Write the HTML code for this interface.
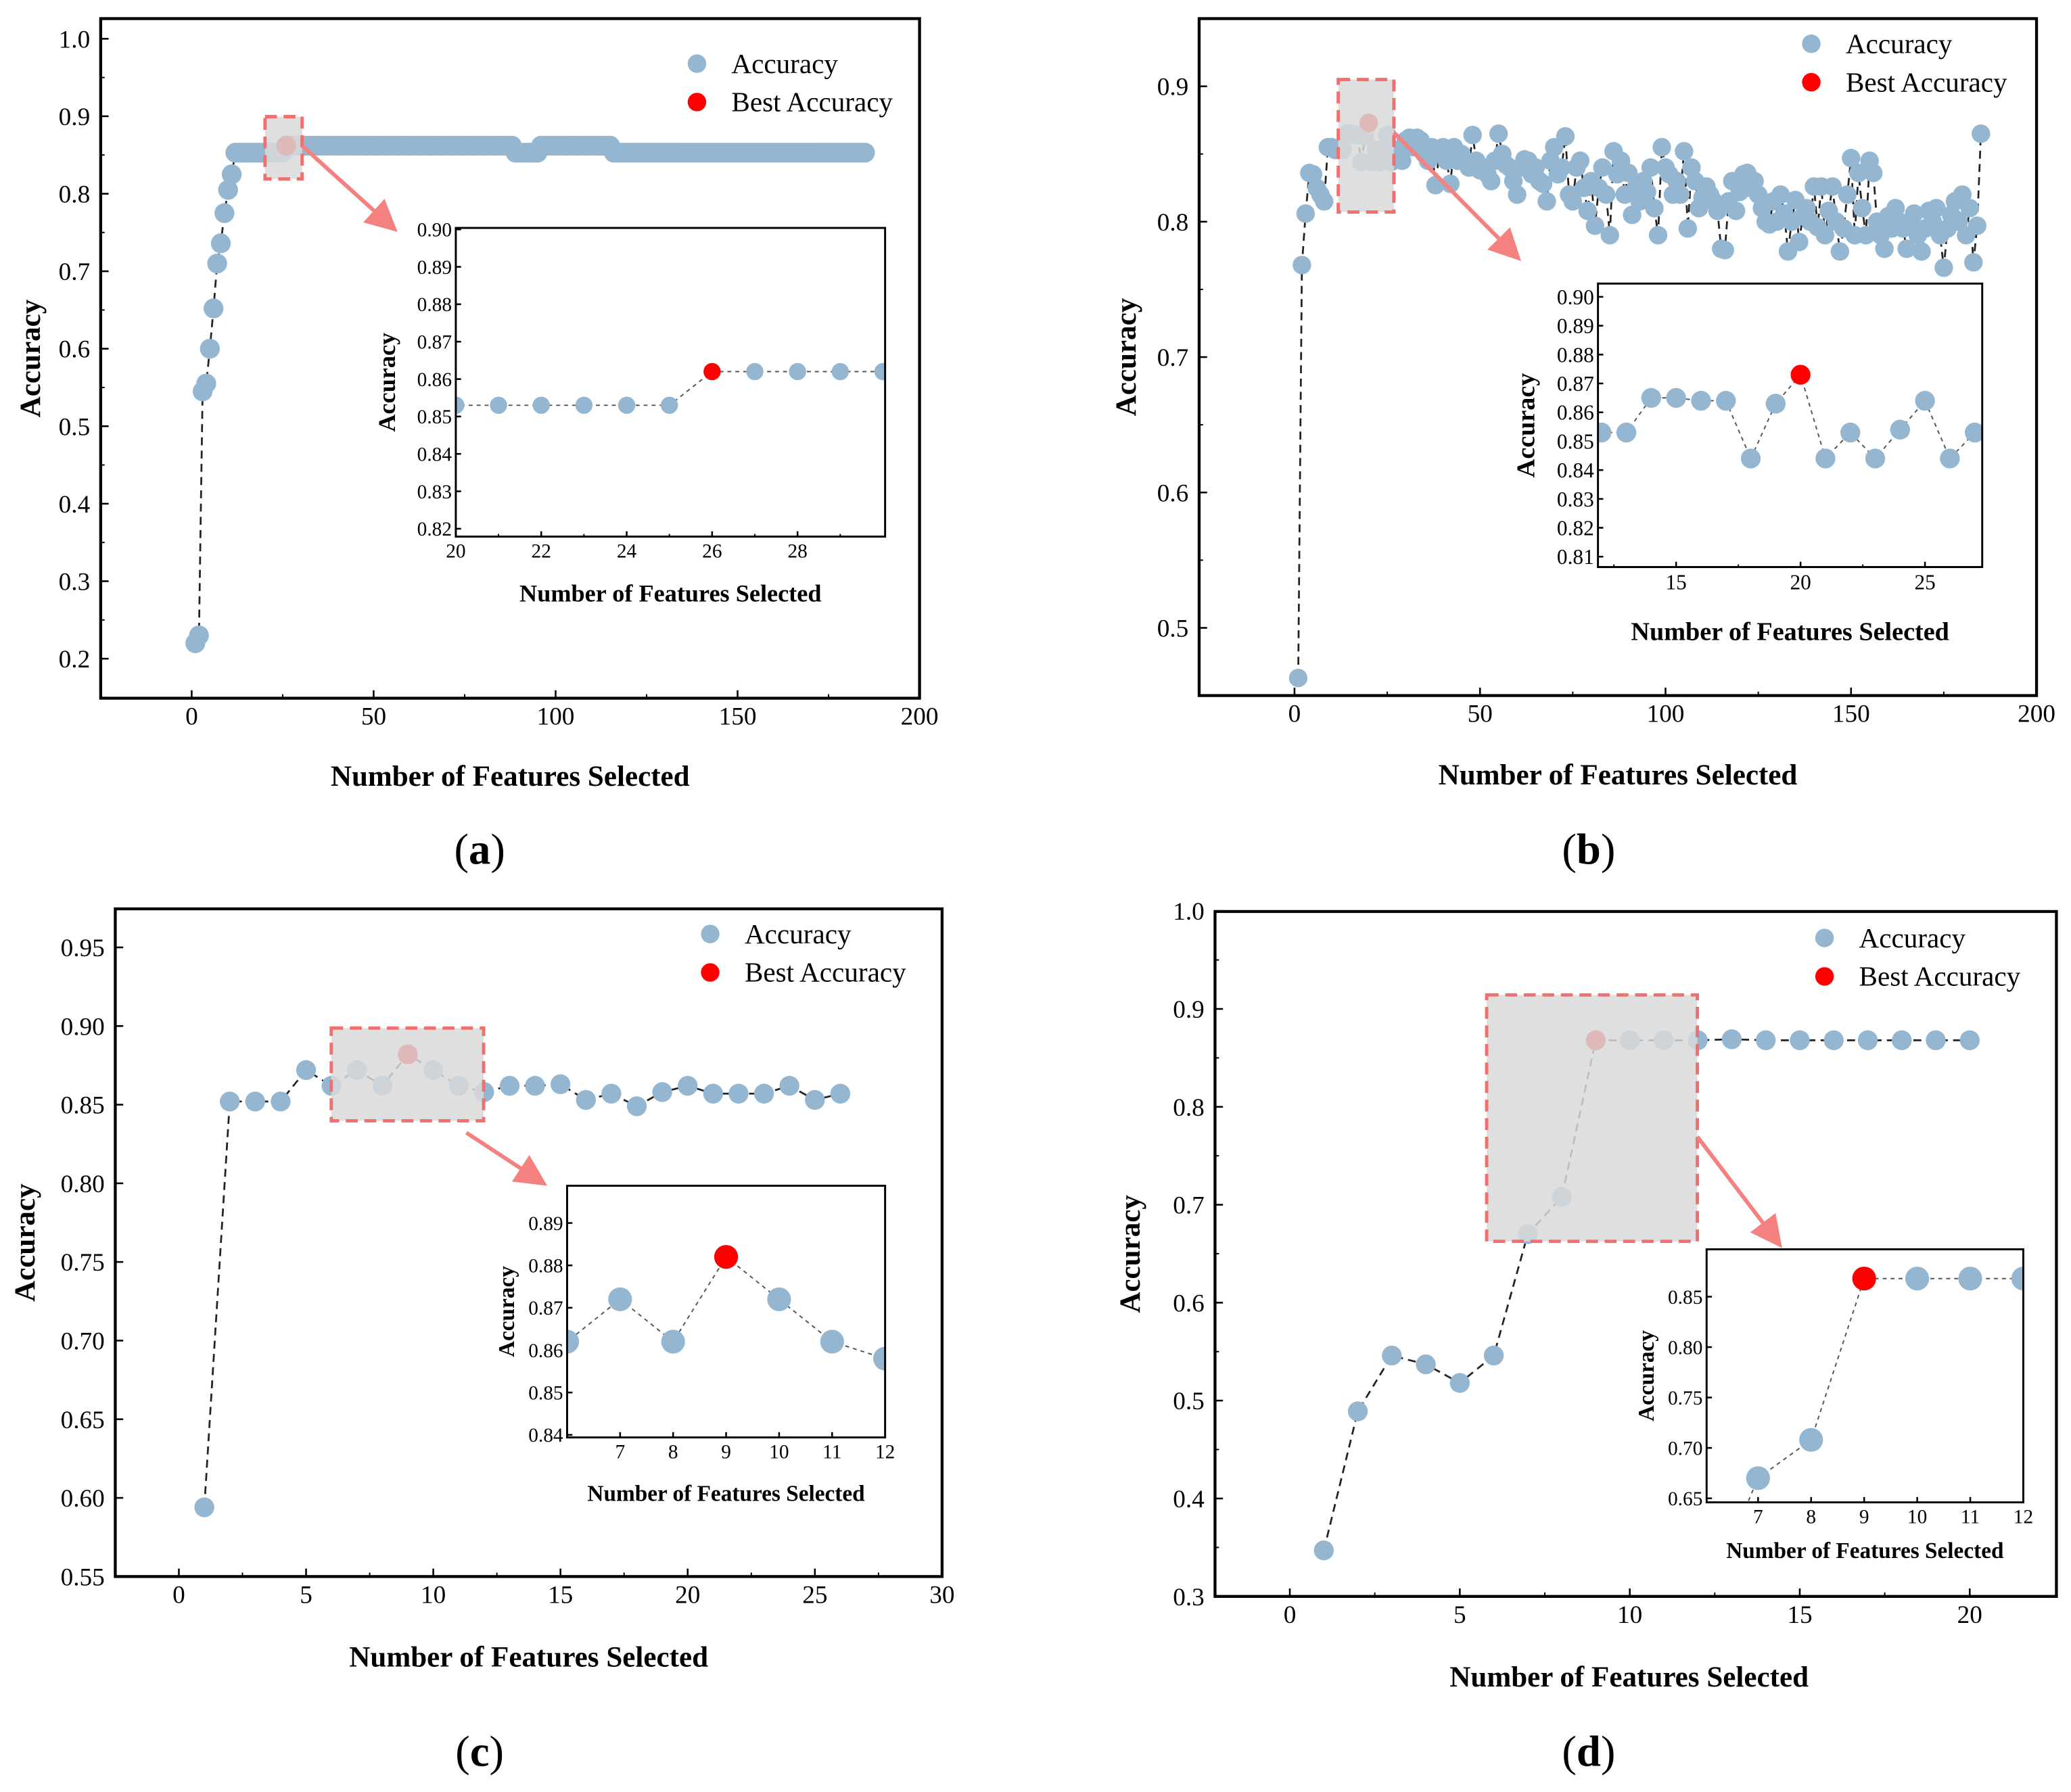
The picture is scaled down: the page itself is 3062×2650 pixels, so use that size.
<!DOCTYPE html>
<html><head><meta charset="utf-8">
<style>
html,body{margin:0;padding:0;background:#fff;}
svg{display:block;font-family:"Liberation Serif",serif;}
</style></head>
<body>
<svg id="fig" width="3062" height="2650" viewBox="0 0 1563 1352.6" xmlns="http://www.w3.org/2000/svg">
<rect width="1563" height="1352.6" fill="#fff"/>
</svg>
<script>
// ---- data ----
const aX = Array.from({length:185},(_, i)=>i+1);
const aAcc = [0.22,0.23,0.545,0.555,0.60,0.652,0.71,0.736,0.775,0.805,0.825,
0.853,0.853,0.853,0.853,0.853,0.853,0.853,0.853,0.853,0.853,0.853,0.853,0.853,0.853,
0.862,0.862,0.862,0.862,0.862,0.862,0.862,0.862,0.862,0.862,0.862,0.862,0.862,0.862,0.862,0.862,0.862,0.862,0.862,0.862,0.862,0.862,0.862,0.862,0.862,0.862,0.862,0.862,0.862,0.862,0.862,0.862,0.862,0.862,0.862,0.862,0.862,0.862,0.862,0.862,0.862,0.862,0.862,0.862,0.862,0.862,0.862,0.862,0.862,0.862,0.862,0.862,0.862,0.862,0.862,0.862,0.862,0.862,0.862,0.862,0.862,0.862,0.862,
0.853,0.853,0.853,0.853,0.853,0.853,0.853,
0.862,0.862,0.862,0.862,0.862,0.862,0.862,0.862,0.862,0.862,0.862,0.862,0.862,0.862,0.862,0.862,0.862,0.862,0.862,0.862,
0.853,0.853,0.853,0.853,0.853,0.853,0.853,0.853,0.853,0.853,0.853,0.853,0.853,0.853,0.853,0.853,0.853,0.853,0.853,0.853,0.853,0.853,0.853,0.853,0.853,0.853,0.853,0.853,0.853,0.853,0.853,0.853,0.853,0.853,0.853,0.853,0.853,0.853,0.853,0.853,0.853,0.853,0.853,0.853,0.853,0.853,0.853,0.853,0.853,0.853,0.853,0.853,0.853,0.853,0.853,0.853,0.853,0.853,0.853,0.853,0.853,0.853,0.853,0.853,0.853,0.853,0.853,0.853,0.853,0.853];
const aBest = 26;
const bX = Array.from({length:185},(_, i)=>i+1);
const bAcc = [0.463,0.768,0.806,0.836,0.835,0.825,0.82,0.815,0.855,0.855,0.853,
0.853,0.853,0.865,0.865,0.864,0.864,0.844,0.863,0.873,0.844,0.853,0.844,0.854,0.864,0.844,0.853,
0.853,0.845,0.86,0.862,0.855,0.862,0.86,0.85,0.845,0.855,
0.827,0.85,0.855,0.845,0.828,0.855,0.845,0.85,0.845,0.84,
0.864,0.845,0.838,0.84,0.835,0.83,0.845,0.865,0.85,0.842,
0.84,0.83,0.82,0.84,0.846,0.845,0.835,0.84,0.83,0.828,
0.815,0.845,0.855,0.835,0.84,0.863,0.82,0.815,0.84,0.845,
0.825,0.808,0.83,0.797,0.825,0.84,0.82,0.79,0.852,0.835,
0.845,0.82,0.836,0.805,0.825,0.815,0.83,0.822,0.84,0.81,
0.79,0.855,0.84,0.835,0.82,0.83,0.82,0.852,0.795,0.84,
0.83,0.81,0.818,0.826,0.82,0.815,0.808,0.78,0.779,0.815,
0.83,0.808,0.822,0.835,0.836,0.825,0.83,0.82,0.81,0.8,
0.798,0.815,0.8,0.82,0.806,0.778,0.8,0.816,0.785,0.804,
0.81,0.8,0.826,0.796,0.826,0.79,0.808,0.826,0.8,0.778,
0.795,0.82,0.847,0.79,0.836,0.81,0.79,0.845,0.836,0.8,
0.79,0.78,0.804,0.795,0.81,0.8,0.795,0.78,0.8,0.806,
0.79,0.778,0.795,0.808,0.8,0.81,0.79,0.766,0.795,0.805,
0.815,0.8,0.82,0.79,0.81,0.77,0.797,0.865];
const bBest = 20;
const cX = Array.from({length:26},(_, i)=>i+1);
const cAcc = [0.594,0.852,0.852,0.852,0.872,0.862,0.872,0.862,0.882,0.872,0.862,0.858,0.862,0.862,0.863,0.853,0.857,0.849,0.858,0.862,0.857,0.857,0.857,0.862,0.853,0.857];
const cBest = 9;
const dX = Array.from({length:20},(_, i)=>i+1);
const dAcc = [0.347,0.489,0.546,0.537,0.518,0.546,0.670,0.708,0.868,0.868,0.868,0.868,0.869,0.868,0.868,0.868,0.868,0.868,0.868,0.868];
const dBest = 9;
const aYTicks=["0.2","0.3","0.4","0.5","0.6","0.7","0.8","0.9","1.0"];
const bYTicks=["0.5","0.6","0.7","0.8","0.9"];
const cYTicks=["0.55","0.60","0.65","0.70","0.75","0.80","0.85","0.90","0.95"];
const dYTicks=["0.3","0.4","0.5","0.6","0.7","0.8","0.9","1.0"];

const NS="http://www.w3.org/2000/svg";
const svg=document.getElementById('fig');
function el(tag,attrs,parent){const e=document.createElementNS(NS,tag);for(const k in attrs)e.setAttribute(k,attrs[k]);(parent||svg).appendChild(e);return e;}
const BLUE="#94b6d1", RED="#ff0000";

function chart(c){
  const g=el('g',{});
  
  
  const sx=v=>c.x0+(v-c.xmin)/(c.xmax-c.xmin)*(c.x1-c.x0);
  const sy=v=>c.y1-(v-c.ymin)/(c.ymax-c.ymin)*(c.y1-c.y0);
  const cid=c.name+'-clip';
  const cp=el('clipPath',{id:cid},g);
  el('rect',{x:c.x0,y:c.y0,width:c.x1-c.x0,height:c.y1-c.y0},cp);
  const fs=c.fs, tl=c.inset?4:6;
  c.xt.forEach(t=>{
    const x=sx(t);
    const tk=el('line',{x1:x,x2:x,y1:c.y1,y2:c.y1-tl,stroke:'#000','stroke-width':1.3},g);
    
    
    const tx=el('text',{x:x,y:c.y1+fs*1.05,'font-size':fs,'text-anchor':'middle'},g);
    tx.textContent=String(t);
    
    
  });
  if(c.xminor) c.xminor.forEach(t=>{const x=sx(t);el('line',{x1:x,x2:x,y1:c.y1,y2:c.y1-tl/2,stroke:'#000','stroke-width':1},g);});
  c.yt.forEach(s=>{
    const y=sy(parseFloat(s));
    const tk=el('line',{x1:c.x0,x2:c.x0+tl,y1:y,y2:y,stroke:'#000','stroke-width':1.3},g);
    
    
    const tx=el('text',{x:c.x0-(c.inset?3:8),y:y+fs*0.35,'font-size':fs,'text-anchor':'end'},g);
    tx.textContent=s;
    
    
  });
  if(c.yminor) c.yminor.forEach(t=>{const y=sy(t);el('line',{x1:c.x0,x2:c.x0+tl/2,y1:y,y2:y,stroke:'#000','stroke-width':1},g);});
  const pts=c.xs.map((x,i)=>sx(x)+','+sy(c.ys[i])).join(' ');
  const pl=el('polyline',{points:pts,fill:'none',stroke:c.inset?'#555':'#222','stroke-width':c.inset?1:1.4,'stroke-dasharray':c.inset?'3,3':'6,4','clip-path':'url(#'+cid+')'},g);
  
  
  const mg=el('g',{'clip-path':'url(#'+cid+')'},g);
  c.xs.forEach((x,i)=>{
    if(x===c.best) return;
    const m=el('circle',{cx:sx(x),cy:sy(c.ys[i]),r:c.r,fill:BLUE},mg);
    
    
  });
  const bi=c.xs.indexOf(c.best);
  if(bi>=0){
    const m=el('circle',{cx:sx(c.best),cy:sy(c.ys[bi]),r:c.r,fill:RED},mg);
    
    
  }
  const fr=el('rect',{x:c.x0,y:c.y0,width:c.x1-c.x0,height:c.y1-c.y0,fill:'none',stroke:'#000','stroke-width':c.inset?1.5:2.2},g);
  
  
  const xt=el('text',{x:(c.x0+c.x1)/2+(c.xtOff||0),y:c.xtY,'font-size':c.tfs,'font-weight':'bold','text-anchor':'middle'},g);
  xt.textContent='Number of Features Selected';
  
  
  const yx=c.ytX, yy=(c.y0+c.y1)/2;
  const yt=el('text',{x:yx,y:yy,'font-size':c.tfs,'font-weight':'bold','text-anchor':'middle',transform:`rotate(-90 ${yx} ${yy})`},g);
  yt.textContent='Accuracy';
  
  
  return {sx,sy};
}
function zoomBox(x,y,w,h,ax,ay,bx,by){
  const r=el('rect',{x,y,width:w,height:h,fill:'#d9d9d9','fill-opacity':0.85,stroke:'#f07070','stroke-width':2.5,'stroke-dasharray':'9,5'});
  
  
  const ang=Math.atan2(by-ay,bx-ax), L=24, W=12;
  const ex=bx-L*Math.cos(ang), ey=by-L*Math.sin(ang);
  const ln=el('line',{x1:ax,y1:ay,x2:ex,y2:ey,stroke:'#f48080','stroke-width':3});
  
  
  const px=-Math.sin(ang),py=Math.cos(ang);
  const hd=el('polygon',{points:`${bx},${by} ${ex+px*W},${ey+py*W} ${ex-px*W},${ey-py*W}`,fill:'#f48080'});
  
  
}
function legend(x,y){
  const g=el('g',{});
  
  
  el('circle',{cx:x,cy:y,r:7,fill:BLUE},g);
  const t1=el('text',{x:x+26,y:y+7,'font-size':21},g);t1.textContent='Accuracy';
  
  
  el('circle',{cx:x,cy:y+29,r:7,fill:RED},g);
  const t2=el('text',{x:x+26,y:y+36,'font-size':21},g);t2.textContent='Best Accuracy';
  
  
}
function panelLabel(x,y,l){
  const t=el('text',{x,y,'font-size':33,'text-anchor':'middle'});
  t.innerHTML='(<tspan font-weight="bold">'+l+'</tspan>)';
  
  
}
function sub(xs,ys,lo,hi){const X=[],Y=[];xs.forEach((x,i)=>{if(x>=lo-1&&x<=hi+1){X.push(x);Y.push(ys[i]);}});return [X,Y];}

// Panel a
chart({name:'chart-a',x0:76,x1:694,y0:14,y1:527,xmin:-25,xmax:200,ymin:0.149,ymax:1.026,xt:[0,50,100,150,200],xminor:[25,75,125,175],yt:aYTicks,yminor:[0.15,0.25,0.35,0.45,0.55,0.65,0.75,0.85,0.95],xs:aX,ys:aAcc,best:aBest,r:7.5,fs:19,tfs:22,xtY:593,xtOff:0,ytX:30});
zoomBox(200,88,28,47,228,110,300,175);
let s=sub(aX,aAcc,20,30);
chart({name:'inset-a',inset:true,x0:344,x1:668,y0:172,y1:405,xmin:20,xmax:30.05,ymin:0.8179,ymax:0.9004,xt:[20,22,24,26,28],xminor:[21,23,25,27,29],yt:["0.82","0.83","0.84","0.85","0.86","0.87","0.88","0.89","0.90"],xs:s[0],ys:s[1],best:aBest,r:6.5,fs:15,tfs:18.5,xtY:454,ytX:298});
legend(526,48);
panelLabel(362,652,'a');

// Panel b
chart({name:'chart-b',x0:905,x1:1537,y0:14,y1:525,xmin:-25.7,xmax:200,ymin:0.45,ymax:0.95,xt:[0,50,100,150,200],xminor:[25,75,125,175],yt:bYTicks,yminor:[0.55,0.65,0.75,0.85],xs:bX,ys:bAcc,best:bBest,r:7,fs:19,tfs:22,xtY:592,ytX:857});
zoomBox(1010,60,42,100,1052,100,1148,197);
s=sub(bX,bAcc,12,27);
chart({name:'inset-b',inset:true,x0:1206,x1:1496,y0:214,y1:428,xmin:11.86,xmax:27.3,ymin:0.8064,ymax:0.9046,xt:[15,20,25],xminor:[12.5,17.5,22.5],yt:["0.81","0.82","0.83","0.84","0.85","0.86","0.87","0.88","0.89","0.90"],xs:s[0],ys:s[1],best:bBest,r:7.5,fs:16,tfs:19.5,xtY:483,ytX:1158});
legend(1367,33);
panelLabel(1199,652,'b');

// Panel c
chart({name:'chart-c',x0:87,x1:711,y0:686,y1:1190,xmin:-2.5,xmax:30,ymin:0.55,ymax:0.9745,xt:[0,5,10,15,20,25,30],xminor:[2.5,7.5,12.5,17.5,22.5,27.5],yt:cYTicks,xs:cX,ys:cAcc,best:cBest,r:7.5,fs:19,tfs:22,xtY:1258,xtOff:0,ytX:26});
zoomBox(250,776,115,70,352,855,413,895);
s=sub(cX,cAcc,6,12);
chart({name:'inset-c',inset:true,x0:428,x1:668,y0:895,y1:1085,xmin:6,xmax:12,ymin:0.8394,ymax:0.8988,xt:[7,8,9,10,11,12],yt:["0.84","0.85","0.86","0.87","0.88","0.89"],xs:s[0],ys:s[1],best:cBest,r:9,fs:15,tfs:17,xtY:1133,ytX:388});
legend(536,705);
panelLabel(362,1333,'c');

// Panel d
chart({name:'chart-d',x0:917,x1:1552,y0:688,y1:1205,xmin:-2.2,xmax:22.55,ymin:0.3,ymax:0.9995,xt:[0,5,10,15,20],xminor:[2.5,7.5,12.5,17.5],yt:dYTicks,yminor:[0.35,0.45,0.55,0.65,0.75,0.85,0.95],xs:dX,ys:dAcc,best:dBest,r:7.5,fs:19,tfs:22,xtY:1273,xtOff:-5,ytX:860});
zoomBox(1122,751,159,186,1281,858,1345,942);
s=sub(dX,dAcc,7,12);
chart({name:'inset-d',inset:true,x0:1288,x1:1527,y0:943,y1:1134,xmin:6.03,xmax:12,ymin:0.646,ymax:0.897,xt:[7,8,9,10,11,12],yt:["0.65","0.70","0.75","0.80","0.85"],xs:s[0],ys:s[1],best:dBest,r:9,fs:15,tfs:17,xtY:1176,ytX:1248});
legend(1377,708);
panelLabel(1199,1333,'d');
</script>
</body></html>
